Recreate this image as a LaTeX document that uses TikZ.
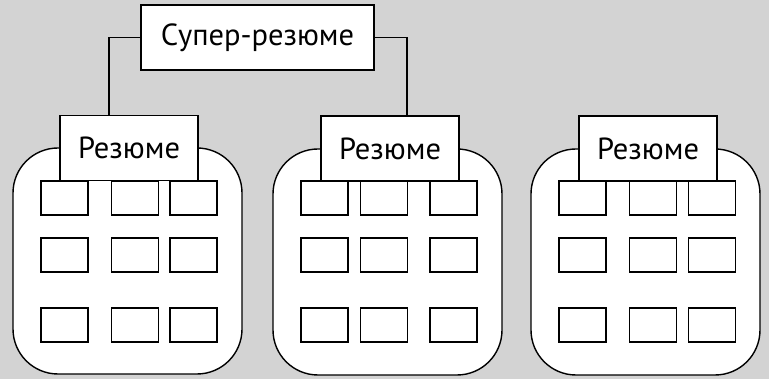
\documentclass[tikz,border=0pt]{standalone}
\usepackage{fontspec}
\setmainfont{PT Sans}
\definecolor{bg}{HTML}{D3D3D3}
\begin{document}
\begin{tikzpicture}[x=1pt,y=-1pt,
  every node/.style={inner sep=0pt,outer sep=0pt,line width=1.4pt},
  cont/.style={draw,fill=white,rounded corners=45pt,minimum width=229pt,minimum height=226pt},
  label/.style={draw,fill=white,minimum width=138pt,minimum height=65pt,font=\fontsize{30.5}{32}\selectfont},
  cell/.style={draw,fill=white,minimum width=47pt,minimum height=34pt},
  conn/.style={line width=1.4pt}]
\fill[bg] (0,0) rectangle (769,379);
\useasboundingbox (0,0) rectangle (769,379);
% containers
\node[cont] (c1) at (127.5,261) {};
\node[cont] (c2) at (387.5,262) {};
\node[cont] (c3) at (645.5,262) {};
% cells
\foreach \k/\xa/\xb/\xc in {1/64.5/135/193.5, 2/324.5/384/453.5, 3/582.5/653/712}{
  \foreach \r/\y in {1/198, 2/255, 3/325}{
    \node[cell] (c\k-\r-1) at (\xa,\y) {};
    \node[cell] (c\k-\r-2) at (\xb,\y) {};
    \node[cell] (c\k-\r-3) at (\xc,\y) {};
  }
}
% labels
\node[label] (r1) at (129,148) {Резюме};
\node[label] (r2) at (390,148.5) {Резюме};
\node[label] (r3) at (648,148.5) {Резюме};
\node[label,minimum width=233pt] (super) at (257.5,37.5) {Супер-резюме};
% connectors
\draw[conn] (super.west) -| ([xshift=-20pt]r1.north);
\draw[conn] (super.east) -| ([xshift=17pt]r2.north);
\end{tikzpicture}
\end{document}
